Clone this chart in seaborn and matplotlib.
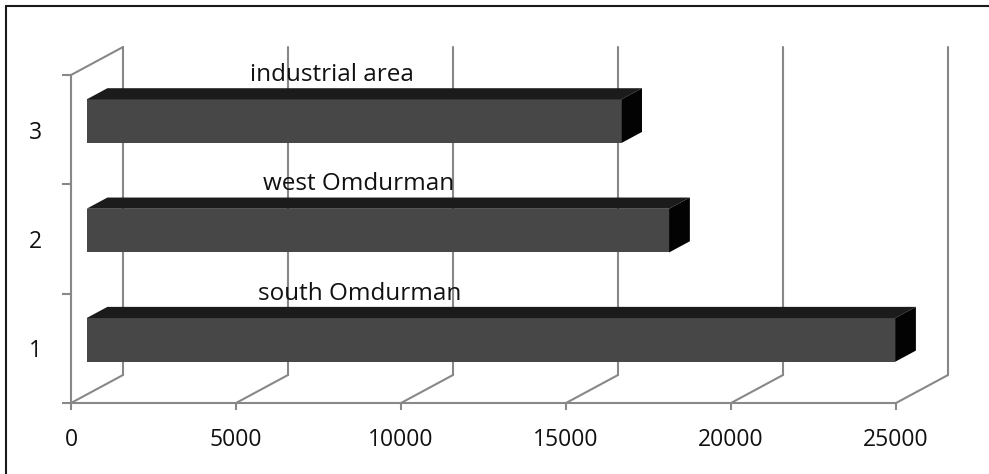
import matplotlib
matplotlib.use("Agg")
import matplotlib.pyplot as plt
from matplotlib.patches import Polygon
from matplotlib.lines import Line2D
from matplotlib.transforms import Affine2D
import seaborn as sns
import pandas as pd

# --- data -------------------------------------------------------------
categories = ["1", "2", "3"]
areas = ["south Omdurman", "west Omdurman", "industrial area"]
values = [24500, 17650, 16200]
x_ticks = [0, 5000, 10000, 15000, 20000, 25000]

df = pd.DataFrame({"category": categories, "value": values, "area": areas})

# --- styling ----------------------------------------------------------
sns.set_theme(style="white")
plt.rcParams["font.family"] = ["Open Sans", "DejaVu Sans"]

W, H, DPI = 989, 474, 100
fig = plt.figure(figsize=(W / DPI, H / DPI), dpi=DPI)
fig.patch.set_facecolor("white")

# front plane of the 3-D box
ax = fig.add_axes([71 / W, (H - 403) / H, 825 / W, 328 / H])

GRID = "#888888"
FRONT = "#474747"
TOP = "#1b1b1b"
SIDE = "#030303"
TEXT = "#111111"

XMAX = 25000
YLO, YHI = -0.5, 2.5
# depth of the box expressed in data units (x: value units, y: category units)
DEPTH_X = 1576.0
DEPTH_Y = 0.256
# bars sit between these fractions of the depth
BAR_D0, BAR_D1 = 0.3, 0.7
BAR_W = 0.40

sns.barplot(data=df, x="value", y="category", order=categories, orient="h",
            color=FRONT, saturation=1, width=BAR_W, linewidth=0, ax=ax, zorder=3)

ax.set_xlim(0, XMAX)
ax.set_ylim(YLO, YHI)
ax.set_xlabel("")
ax.set_ylabel("")
ax.patch.set_alpha(0)

# push the front faces to their depth and add top / side faces
shift = Affine2D().translate(BAR_D0 * DEPTH_X, BAR_D0 * DEPTH_Y)
dd_x = (BAR_D1 - BAR_D0) * DEPTH_X
dd_y = (BAR_D1 - BAR_D0) * DEPTH_Y
for p in ax.patches:
    x0, y0 = p.get_x(), p.get_y()
    w, h = p.get_width(), p.get_height()
    ylow, yhigh = min(y0, y0 + h), max(y0, y0 + h)
    p.set_transform(shift + ax.transData)
    p.set_clip_on(False)
    top = Polygon([(x0, yhigh), (x0 + w, yhigh), (x0 + w + dd_x, yhigh + dd_y),
                   (x0 + dd_x, yhigh + dd_y)], closed=True, facecolor=TOP,
                  edgecolor="none", transform=shift + ax.transData,
                  clip_on=False, zorder=3)
    side = Polygon([(x0 + w, ylow), (x0 + w + dd_x, ylow + dd_y),
                    (x0 + w + dd_x, yhigh + dd_y), (x0 + w, yhigh)], closed=True,
                   facecolor=SIDE, edgecolor="none", transform=shift + ax.transData,
                   clip_on=False, zorder=3)
    ax.add_patch(top)
    ax.add_patch(side)

# back wall gridlines and floor diagonals
for v in x_ticks:
    ax.add_line(Line2D([v + DEPTH_X, v + DEPTH_X], [YLO + DEPTH_Y, YHI + DEPTH_Y],
                       color=GRID, lw=1.5, clip_on=False, zorder=1))
    ax.add_line(Line2D([v, v + DEPTH_X], [YLO, YLO + DEPTH_Y],
                       color=GRID, lw=1.5, clip_on=False, zorder=1))
# top edge of the side wall
ax.add_line(Line2D([0, DEPTH_X], [YHI, YHI + DEPTH_Y],
                   color=GRID, lw=1.5, clip_on=False, zorder=1))

# area labels above each bar
label_x = [8750, 8730, 7900]
for i, (txt, lx) in enumerate(zip(areas, label_x)):
    ax.text(lx, i + 0.5, txt, ha="center", va="center", fontsize=17.5,
            color=TEXT, zorder=5)

# spines: only the front left and bottom edges
for s in ["top", "right"]:
    ax.spines[s].set_visible(False)
for s in ["left", "bottom"]:
    ax.spines[s].set_color(GRID)
    ax.spines[s].set_linewidth(1.5)
    ax.spines[s].set_zorder(1)

ax.set_xticks(x_ticks)
ax.set_xticklabels([str(v) for v in x_ticks])
ax.tick_params(axis="x", which="major", direction="out", length=5, width=1.5,
               color=GRID, pad=13, labelsize=16.5, labelcolor=TEXT, bottom=True)

ax.set_yticks(range(len(categories)))
ax.set_yticklabels(categories)
ax.set_yticks([YLO + k for k in range(len(categories) + 1)], minor=True)
ax.tick_params(axis="y", which="major", length=0, pad=21, labelsize=16.5,
               labelcolor=TEXT)
ax.tick_params(axis="y", which="minor", direction="out", length=6.5, width=1.5,
               color=GRID, left=True)

# outer frame (top and left edges)
fig.add_artist(Line2D([6 / W, 1], [1 - 6 / H, 1 - 6 / H], color="#1a1a1a", lw=1.5,
                      transform=fig.transFigure))
fig.add_artist(Line2D([6 / W, 6 / W], [0, 1 - 6 / H], color="#1a1a1a", lw=1.5,
                      transform=fig.transFigure))

fig.savefig("out.png", dpi=DPI)
